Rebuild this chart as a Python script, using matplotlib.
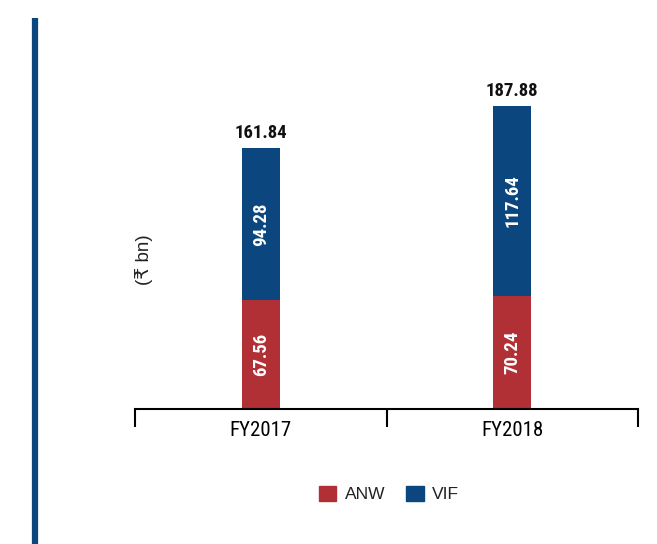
import numpy as np
import matplotlib.pyplot as plt
from matplotlib.patches import Patch
from matplotlib.lines import Line2D

years = ["FY2017", "FY2018"]
anw = [67.56, 70.24]
vif = [94.28, 117.64]
totals = [161.84, 187.88]

RED = "#b03035"
BLUE = "#0b467e"
FONT = ["Roboto Condensed", "Liberation Sans Narrow", "DejaVu Sans"]
PLAIN = ["Liberation Sans", "DejaVu Sans"]

plt.rcParams["font.family"] = FONT
plt.rcParams["font.stretch"] = "condensed"

fig = plt.figure(figsize=(6.57, 5.44), dpi=100)
W, H = 657, 544
ax = fig.add_axes([135 / W, 1 - 409 / H, (638 - 135) / W, (409 - 60) / H])

x = np.arange(len(years)) + 0.5
width = 0.15
ax.bar(x, anw, width, color=RED, label="ANW")
ax.bar(x, vif, width, bottom=anw, color=BLUE, label="VIF")

for xi, a, v, t in zip(x, anw, vif, totals):
    ax.text(xi, a / 2, f"{a:.2f}", rotation=90, ha="center", va="center",
            color="white", fontsize=13.5, fontweight="bold")
    ax.text(xi, a + v / 2, f"{v:.2f}", rotation=90, ha="center", va="center",
            color="white", fontsize=13.5, fontweight="bold")
    ax.annotate(f"{t:.2f}", (xi, t), xytext=(0, 4), textcoords="offset points",
                ha="center", va="bottom", color="#111111", fontsize=13.5,
                fontweight="bold")

ax.set_xlim(0, 2)
ax.set_ylim(0, (409 - 60) / (261 / 161.84))
ax.set_xticks(x)
ax.set_xticklabels(years, fontsize=15)
ax.tick_params(axis="x", which="major", length=0, pad=9)
ax.set_xticks([0, 1, 2], minor=True)
ax.tick_params(axis="x", which="minor", length=13, width=1.5, direction="out")
ax.set_yticks([])
for s in ["top", "right", "left"]:
    ax.spines[s].set_visible(False)
ax.spines["bottom"].set_linewidth(1.5)

fig.text(144 / W, 1 - 260 / H, "(₹ bn)", rotation=90, ha="center", va="center",
         fontsize=13.5, color="#222222", family=PLAIN, stretch="normal")

# left accent bar
fig.add_artist(Line2D([35 / W, 35 / W], [0, 1 - 18 / H], color=BLUE, lw=4.5,
                      transform=fig.transFigure, solid_capstyle="butt"))

handles = [Patch(color=RED, label="ANW"), Patch(color=BLUE, label="VIF")]
leg = fig.legend(handles=handles, loc="center", bbox_to_anchor=(389 / W, 1 - 494 / H),
                 ncol=2, frameon=False, handlelength=1.0, handleheight=1.0,
                 columnspacing=1.2, handletextpad=0.5,
                 prop={"family": PLAIN, "stretch": "normal", "size": 12.5})
for t in leg.get_texts():
    t.set_color("#222222")

fig.savefig("out.png", dpi=100)
